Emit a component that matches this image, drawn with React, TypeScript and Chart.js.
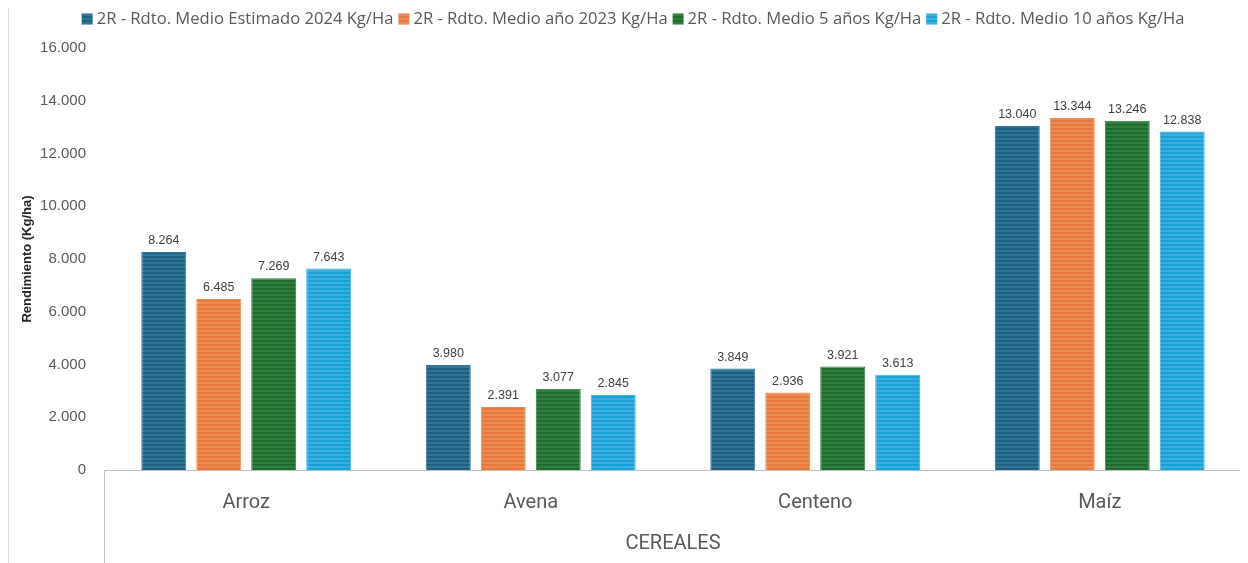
import { useEffect, useRef } from "react";
import { Chart, registerables } from "chart.js";

Chart.register(...registerables);

const categories = ["Arroz", "Avena", "Centeno", "Maíz"];
const seriesNames = [
  "2R - Rdto. Medio Estimado 2024 Kg/Ha",
  "2R - Rdto. Medio año 2023 Kg/Ha",
  "2R - Rdto. Medio 5 años Kg/Ha",
  "2R - Rdto. Medio 10 años Kg/Ha",
];
const estimado2024 = [8264, 3980, 3849, 13040];
const anio2023 = [6485, 2391, 2936, 13344];
const medio5 = [7269, 3077, 3921, 13246];
const medio10 = [7643, 2845, 3613, 12838];
const yTickValues = [0, 2000, 4000, 6000, 8000, 10000, 12000, 14000, 16000];

const baseColors = ["#1f5f80", "#e8773a", "#1e6b2c", "#1aa0d6"];
const stripeColors = ["#2f7597", "#ed8b55", "#2f7f3d", "#3ab0e0"];

const fmt = (n: number) => String(Math.round(n)).replace(/\B(?=(\d{3})+(?!\d))/g, ".");

function makePattern(base: string, stripe: string): CanvasPattern | string {
  const c = document.createElement("canvas");
  c.width = 4;
  c.height = 4;
  const x = c.getContext("2d");
  if (!x) return base;
  x.fillStyle = base;
  x.fillRect(0, 0, 4, 4);
  x.fillStyle = stripe;
  x.fillRect(0, 2, 4, 2);
  const p = x.createPattern(c, "repeat");
  return p || base;
}

export default function App() {
  const ref = useRef<HTMLCanvasElement | null>(null);

  useEffect(() => {
    if (!ref.current) return;
    const patterns = baseColors.map((b, i) => makePattern(b, stripeColors[i]));
    const values = [estimado2024, anio2023, medio5, medio10];

    const framePlugin = {
      id: "frame",
      afterDraw(chart: any) {
        const { ctx, chartArea, height } = chart;
        ctx.save();
        ctx.strokeStyle = "#d9d9d9";
        ctx.lineWidth = 1;
        ctx.beginPath();
        ctx.moveTo(0.5, 0);
        ctx.lineTo(0.5, height);
        ctx.stroke();
        ctx.strokeStyle = "#bfbfbf";
        ctx.beginPath();
        const y = Math.round(chartArea.bottom) + 0.5;
        const l = Math.round(chartArea.left) + 0.5;
        const r = Math.round(chartArea.right) - 0.5;
        ctx.moveTo(l, height);
        ctx.lineTo(l, y);
        ctx.lineTo(r, y);
        ctx.lineTo(r, height);
        ctx.stroke();
        ctx.restore();
      },
    };

    const labelPlugin = {
      id: "valueLabels",
      afterDatasetsDraw(chart: any) {
        const { ctx } = chart;
        ctx.save();
        ctx.font = "12.5px 'Liberation Sans', Arial, sans-serif";
        ctx.fillStyle = "#404040";
        ctx.textAlign = "center";
        ctx.textBaseline = "bottom";
        chart.data.datasets.forEach((ds: any, i: number) => {
          const meta = chart.getDatasetMeta(i);
          meta.data.forEach((el: any, j: number) => {
            ctx.fillText(fmt(ds.data[j]), el.x, el.y - 5);
          });
        });
        ctx.restore();
      },
    };

    const legendPlugin = {
      id: "customLegend",
      afterDraw(chart: any) {
        const { ctx } = chart;
        ctx.save();
        ctx.font = "16.6px 'Open Sans', sans-serif";
        const box = 11;
        const gapBoxText = 4;
        const gapItems = 5;
        const widths = seriesNames.map((s) => ctx.measureText(s).width);
        const total =
          widths.reduce((a, w) => a + box + gapBoxText + w, 0) + gapItems * (seriesNames.length - 1);
        let x = 625 - total / 2;
        const cy = 11;
        ctx.textBaseline = "middle";
        ctx.textAlign = "left";
        seriesNames.forEach((s, i) => {
          ctx.fillStyle = patterns[i] as any;
          ctx.fillRect(x, cy - box / 2, box, box);
          x += box + gapBoxText;
          ctx.fillStyle = "#595959";
          ctx.fillText(s, x, cy);
          x += widths[i] + gapItems;
        });
        ctx.restore();
      },
    };

    const chart = new Chart(ref.current, {
      type: "bar",
      data: {
        labels: categories,
        datasets: seriesNames.map((name, i) => ({
          label: name,
          data: values[i],
          backgroundColor: patterns[i] as any,
          borderColor: stripeColors[i],
          borderWidth: 1,
          barPercentage: 0.818,
          categoryPercentage: 0.773,
        })),
      },
      options: {
        animation: false,
        responsive: true,
        maintainAspectRatio: false,
        layout: { padding: { top: 40, right: 6, left: 0, bottom: 0 } },
        plugins: {
          legend: { display: false },
          tooltip: { enabled: false },
        },
        scales: {
          x: {
            grid: { display: false, drawTicks: false },
            border: { display: false },
            ticks: {
              font: { family: "Roboto", size: 20 },
              color: "#595959",
              padding: 21,
            },
            title: {
              display: true,
              text: "CEREALES",
              font: { family: "Roboto", size: 20 },
              color: "#595959",
              padding: { top: 0, bottom: 7 },
            },
            afterFit: (s: any) => {
              s.height = 93;
            },
          },
          y: {
            min: 0,
            max: 16000,
            grid: { display: false, drawTicks: false },
            border: { display: false },
            afterBuildTicks: (s: any) => {
              s.ticks = yTickValues.map((v) => ({ value: v }));
            },
            ticks: {
              font: { family: "'Liberation Sans', Arial", size: 15 },
              color: "#595959",
              padding: 18,
              callback: (v: any) => fmt(Number(v)),
            },
            title: {
              display: true,
              text: "Rendimiento (Kg/ha)",
              font: { family: "'Liberation Sans', Arial", size: 13, weight: "bold" },
              color: "#262626",
              padding: { top: 12, bottom: 0 },
            },
            afterFit: (s: any) => {
              s.width = 96;
            },
          },
        },
      },
      plugins: [framePlugin, labelPlugin, legendPlugin],
    });
    return () => chart.destroy();
  }, []);

  return (
    <div style={{ width: 1240, height: 555, position: "relative" }}>
      <canvas ref={ref} />
    </div>
  );
}
